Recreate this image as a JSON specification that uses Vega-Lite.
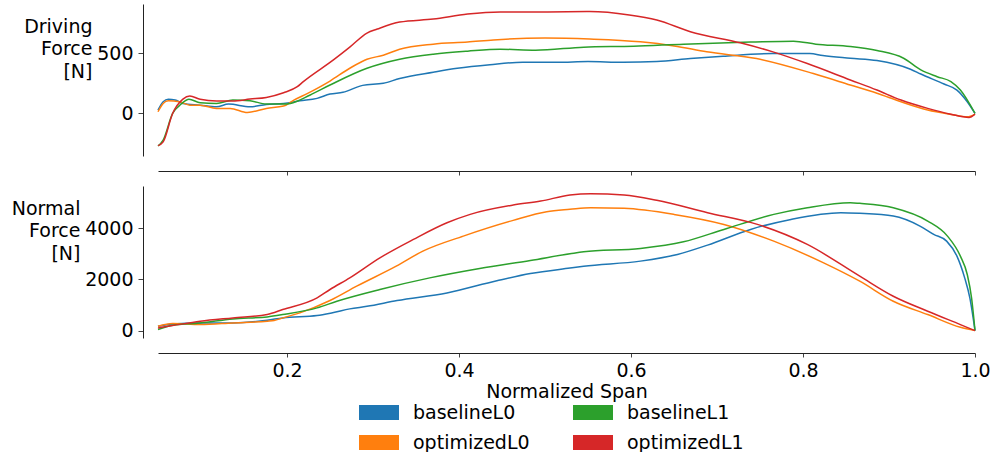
{
  "$schema": "https://vega.github.io/schema/vega-lite/v6.json",
  "padding": {"left": 11, "top": 4, "right": 4, "bottom": 0},
  "config": {
    "view": {"stroke": null},
    "font": "DejaVu Sans",
    "axis": {"grid": false, "domainColor": "#222", "tickColor": "#444", "labelColor": "#000", "titleColor": "#000", "labelFontSize": 19, "titleFontSize": 19, "titleFontWeight": "normal", "labelFont": "DejaVu Sans", "titleFont": "DejaVu Sans"},
    "axisX": {"tickSize": 4},
    "axisY": {"tickSize": 5}
  },
  "datasets": {
    "driving": [
      {"series": "baselineL0", "span": 0.050, "force": 27}, {"series": "baselineL0", "span": 0.056, "force": 97}, {"series": "baselineL0", "span": 0.062, "force": 117}, {"series": "baselineL0", "span": 0.070, "force": 111}, {"series": "baselineL0", "span": 0.079, "force": 83}, {"series": "baselineL0", "span": 0.099, "force": 69}, {"series": "baselineL0", "span": 0.118, "force": 55}, {"series": "baselineL0", "span": 0.132, "force": 78}, {"series": "baselineL0", "span": 0.157, "force": 55}, {"series": "baselineL0", "span": 0.176, "force": 75}, {"series": "baselineL0", "span": 0.196, "force": 83}, {"series": "baselineL0", "span": 0.215, "force": 105}, {"series": "baselineL0", "span": 0.235, "force": 125}, {"series": "baselineL0", "span": 0.250, "force": 161}, {"series": "baselineL0", "span": 0.265, "force": 175}, {"series": "baselineL0", "span": 0.288, "force": 233}, {"series": "baselineL0", "span": 0.312, "force": 250}, {"series": "baselineL0", "span": 0.331, "force": 290}, {"series": "baselineL0", "span": 0.370, "force": 342}, {"series": "baselineL0", "span": 0.398, "force": 375}, {"series": "baselineL0", "span": 0.436, "force": 405}, {"series": "baselineL0", "span": 0.474, "force": 425}, {"series": "baselineL0", "span": 0.514, "force": 425}, {"series": "baselineL0", "span": 0.550, "force": 430}, {"series": "baselineL0", "span": 0.591, "force": 425}, {"series": "baselineL0", "span": 0.630, "force": 430}, {"series": "baselineL0", "span": 0.669, "force": 455}, {"series": "baselineL0", "span": 0.707, "force": 475}, {"series": "baselineL0", "span": 0.765, "force": 497}, {"series": "baselineL0", "span": 0.808, "force": 497}, {"series": "baselineL0", "span": 0.823, "force": 480}, {"series": "baselineL0", "span": 0.855, "force": 458}, {"series": "baselineL0", "span": 0.886, "force": 439}, {"series": "baselineL0", "span": 0.925, "force": 367}, {"series": "baselineL0", "span": 0.937, "force": 327}, {"series": "baselineL0", "span": 0.964, "force": 244}, {"series": "baselineL0", "span": 0.979, "force": 194}, {"series": "baselineL0", "span": 0.991, "force": 97}, {"series": "baselineL0", "span": 1.0, "force": 0},
      {"series": "optimizedL0", "span": 0.050, "force": 14}, {"series": "optimizedL0", "span": 0.056, "force": 83}, {"series": "optimizedL0", "span": 0.062, "force": 105}, {"series": "optimizedL0", "span": 0.075, "force": 97}, {"series": "optimizedL0", "span": 0.087, "force": 69}, {"series": "optimizedL0", "span": 0.099, "force": 69}, {"series": "optimizedL0", "span": 0.118, "force": 42}, {"series": "optimizedL0", "span": 0.134, "force": 42}, {"series": "optimizedL0", "span": 0.154, "force": 8}, {"series": "optimizedL0", "span": 0.176, "force": 42}, {"series": "optimizedL0", "span": 0.196, "force": 61}, {"series": "optimizedL0", "span": 0.208, "force": 111}, {"series": "optimizedL0", "span": 0.224, "force": 167}, {"series": "optimizedL0", "span": 0.250, "force": 269}, {"series": "optimizedL0", "span": 0.273, "force": 375}, {"series": "optimizedL0", "span": 0.293, "force": 450}, {"series": "optimizedL0", "span": 0.312, "force": 483}, {"series": "optimizedL0", "span": 0.331, "force": 533}, {"series": "optimizedL0", "span": 0.370, "force": 575}, {"series": "optimizedL0", "span": 0.410, "force": 592}, {"series": "optimizedL0", "span": 0.440, "force": 610}, {"series": "optimizedL0", "span": 0.500, "force": 625}, {"series": "optimizedL0", "span": 0.552, "force": 617}, {"series": "optimizedL0", "span": 0.611, "force": 594}, {"series": "optimizedL0", "span": 0.650, "force": 560}, {"series": "optimizedL0", "span": 0.688, "force": 511}, {"series": "optimizedL0", "span": 0.746, "force": 455}, {"series": "optimizedL0", "span": 0.812, "force": 331}, {"series": "optimizedL0", "span": 0.855, "force": 236}, {"series": "optimizedL0", "span": 0.886, "force": 167}, {"series": "optimizedL0", "span": 0.914, "force": 97}, {"series": "optimizedL0", "span": 0.945, "force": 28}, {"series": "optimizedL0", "span": 0.972, "force": -8}, {"series": "optimizedL0", "span": 0.991, "force": -28}, {"series": "optimizedL0", "span": 1.0, "force": -5},
      {"series": "baselineL1", "span": 0.050, "force": -270}, {"series": "baselineL1", "span": 0.056, "force": -222}, {"series": "baselineL1", "span": 0.067, "force": 0}, {"series": "baselineL1", "span": 0.077, "force": 78}, {"series": "baselineL1", "span": 0.086, "force": 117}, {"series": "baselineL1", "span": 0.099, "force": 89}, {"series": "baselineL1", "span": 0.118, "force": 83}, {"series": "baselineL1", "span": 0.137, "force": 111}, {"series": "baselineL1", "span": 0.157, "force": 105}, {"series": "baselineL1", "span": 0.176, "force": 78}, {"series": "baselineL1", "span": 0.196, "force": 78}, {"series": "baselineL1", "span": 0.204, "force": 83}, {"series": "baselineL1", "span": 0.227, "force": 153}, {"series": "baselineL1", "span": 0.250, "force": 236}, {"series": "baselineL1", "span": 0.293, "force": 375}, {"series": "baselineL1", "span": 0.331, "force": 450}, {"series": "baselineL1", "span": 0.370, "force": 492}, {"series": "baselineL1", "span": 0.410, "force": 517}, {"series": "baselineL1", "span": 0.448, "force": 533}, {"series": "baselineL1", "span": 0.489, "force": 525}, {"series": "baselineL1", "span": 0.545, "force": 550}, {"series": "baselineL1", "span": 0.603, "force": 558}, {"series": "baselineL1", "span": 0.661, "force": 575}, {"series": "baselineL1", "span": 0.739, "force": 592}, {"series": "baselineL1", "span": 0.789, "force": 600}, {"series": "baselineL1", "span": 0.815, "force": 575}, {"series": "baselineL1", "span": 0.855, "force": 555}, {"series": "baselineL1", "span": 0.886, "force": 522}, {"series": "baselineL1", "span": 0.917, "force": 458}, {"series": "baselineL1", "span": 0.937, "force": 361}, {"series": "baselineL1", "span": 0.956, "force": 305}, {"series": "baselineL1", "span": 0.972, "force": 264}, {"series": "baselineL1", "span": 0.983, "force": 194}, {"series": "baselineL1", "span": 1.0, "force": 0},
      {"series": "optimizedL1", "span": 0.050, "force": -267}, {"series": "optimizedL1", "span": 0.056, "force": -236}, {"series": "optimizedL1", "span": 0.067, "force": 0}, {"series": "optimizedL1", "span": 0.079, "force": 119}, {"series": "optimizedL1", "span": 0.087, "force": 144}, {"series": "optimizedL1", "span": 0.099, "force": 117}, {"series": "optimizedL1", "span": 0.118, "force": 103}, {"series": "optimizedL1", "span": 0.137, "force": 103}, {"series": "optimizedL1", "span": 0.157, "force": 119}, {"series": "optimizedL1", "span": 0.176, "force": 133}, {"series": "optimizedL1", "span": 0.196, "force": 172}, {"series": "optimizedL1", "span": 0.212, "force": 222}, {"series": "optimizedL1", "span": 0.219, "force": 264}, {"series": "optimizedL1", "span": 0.254, "force": 444}, {"series": "optimizedL1", "span": 0.273, "force": 550}, {"series": "optimizedL1", "span": 0.293, "force": 667}, {"series": "optimizedL1", "span": 0.305, "force": 700}, {"series": "optimizedL1", "span": 0.331, "force": 758}, {"series": "optimizedL1", "span": 0.370, "force": 783}, {"series": "optimizedL1", "span": 0.410, "force": 825}, {"series": "optimizedL1", "span": 0.448, "force": 842}, {"series": "optimizedL1", "span": 0.500, "force": 842}, {"series": "optimizedL1", "span": 0.552, "force": 845}, {"series": "optimizedL1", "span": 0.598, "force": 817}, {"series": "optimizedL1", "span": 0.630, "force": 775}, {"series": "optimizedL1", "span": 0.669, "force": 678}, {"series": "optimizedL1", "span": 0.727, "force": 586}, {"series": "optimizedL1", "span": 0.765, "force": 511}, {"series": "optimizedL1", "span": 0.805, "force": 414}, {"series": "optimizedL1", "span": 0.855, "force": 278}, {"series": "optimizedL1", "span": 0.886, "force": 194}, {"series": "optimizedL1", "span": 0.914, "force": 111}, {"series": "optimizedL1", "span": 0.945, "force": 42}, {"series": "optimizedL1", "span": 0.972, "force": -6}, {"series": "optimizedL1", "span": 0.993, "force": -33}, {"series": "optimizedL1", "span": 1.0, "force": -5}
    ],
    "normal": [
      {"series": "baselineL0", "span": 0.050, "force": 170}, {"series": "baselineL0", "span": 0.067, "force": 261}, {"series": "baselineL0", "span": 0.099, "force": 300}, {"series": "baselineL0", "span": 0.137, "force": 300}, {"series": "baselineL0", "span": 0.177, "force": 405}, {"series": "baselineL0", "span": 0.195, "force": 497}, {"series": "baselineL0", "span": 0.235, "force": 588}, {"series": "baselineL0", "span": 0.253, "force": 700}, {"series": "baselineL0", "span": 0.273, "force": 850}, {"series": "baselineL0", "span": 0.293, "force": 950}, {"series": "baselineL0", "span": 0.328, "force": 1176}, {"series": "baselineL0", "span": 0.386, "force": 1475}, {"series": "baselineL0", "span": 0.444, "force": 1950}, {"series": "baselineL0", "span": 0.483, "force": 2230}, {"series": "baselineL0", "span": 0.529, "force": 2450}, {"series": "baselineL0", "span": 0.545, "force": 2522}, {"series": "baselineL0", "span": 0.611, "force": 2719}, {"series": "baselineL0", "span": 0.654, "force": 2980}, {"series": "baselineL0", "span": 0.689, "force": 3346}, {"series": "baselineL0", "span": 0.739, "force": 3960}, {"series": "baselineL0", "span": 0.786, "force": 4352}, {"series": "baselineL0", "span": 0.844, "force": 4614}, {"series": "baselineL0", "span": 0.866, "force": 4588}, {"series": "baselineL0", "span": 0.905, "force": 4482}, {"series": "baselineL0", "span": 0.936, "force": 4090}, {"series": "baselineL0", "span": 0.952, "force": 3765}, {"series": "baselineL0", "span": 0.967, "force": 3502}, {"series": "baselineL0", "span": 0.979, "force": 2914}, {"series": "baselineL0", "span": 0.988, "force": 2063}, {"series": "baselineL0", "span": 0.994, "force": 1278}, {"series": "baselineL0", "span": 1.0, "force": 0},
      {"series": "optimizedL0", "span": 0.050, "force": 170}, {"series": "optimizedL0", "span": 0.067, "force": 274}, {"series": "optimizedL0", "span": 0.099, "force": 235}, {"series": "optimizedL0", "span": 0.137, "force": 300}, {"series": "optimizedL0", "span": 0.177, "force": 366}, {"series": "optimizedL0", "span": 0.185, "force": 392}, {"series": "optimizedL0", "span": 0.195, "force": 497}, {"series": "optimizedL0", "span": 0.215, "force": 693}, {"series": "optimizedL0", "span": 0.250, "force": 1176}, {"series": "optimizedL0", "span": 0.281, "force": 1737}, {"series": "optimizedL0", "span": 0.327, "force": 2522}, {"series": "optimizedL0", "span": 0.358, "force": 3110}, {"series": "optimizedL0", "span": 0.405, "force": 3698}, {"series": "optimizedL0", "span": 0.463, "force": 4314}, {"series": "optimizedL0", "span": 0.502, "force": 4651}, {"series": "optimizedL0", "span": 0.529, "force": 4745}, {"series": "optimizedL0", "span": 0.553, "force": 4810}, {"series": "optimizedL0", "span": 0.592, "force": 4784}, {"series": "optimizedL0", "span": 0.650, "force": 4548}, {"series": "optimizedL0", "span": 0.708, "force": 4156}, {"series": "optimizedL0", "span": 0.766, "force": 3500}, {"series": "optimizedL0", "span": 0.824, "force": 2650}, {"series": "optimizedL0", "span": 0.866, "force": 1933}, {"series": "optimizedL0", "span": 0.905, "force": 1149}, {"series": "optimizedL0", "span": 0.945, "force": 627}, {"series": "optimizedL0", "span": 0.983, "force": 129}, {"series": "optimizedL0", "span": 1.0, "force": 0},
      {"series": "baselineL1", "span": 0.050, "force": 40}, {"series": "baselineL1", "span": 0.067, "force": 209}, {"series": "baselineL1", "span": 0.099, "force": 300}, {"series": "baselineL1", "span": 0.137, "force": 457}, {"series": "baselineL1", "span": 0.177, "force": 536}, {"series": "baselineL1", "span": 0.195, "force": 627}, {"series": "baselineL1", "span": 0.235, "force": 889}, {"series": "baselineL1", "span": 0.258, "force": 1149}, {"series": "baselineL1", "span": 0.308, "force": 1608}, {"series": "baselineL1", "span": 0.366, "force": 2063}, {"series": "baselineL1", "span": 0.424, "force": 2431}, {"series": "baselineL1", "span": 0.483, "force": 2745}, {"series": "baselineL1", "span": 0.529, "force": 3004}, {"series": "baselineL1", "span": 0.545, "force": 3085}, {"series": "baselineL1", "span": 0.611, "force": 3215}, {"series": "baselineL1", "span": 0.661, "force": 3477}, {"series": "baselineL1", "span": 0.708, "force": 3960}, {"series": "baselineL1", "span": 0.766, "force": 4548}, {"series": "baselineL1", "span": 0.805, "force": 4810}, {"series": "baselineL1", "span": 0.855, "force": 5006}, {"series": "baselineL1", "span": 0.866, "force": 4980}, {"series": "baselineL1", "span": 0.905, "force": 4808}, {"series": "baselineL1", "span": 0.945, "force": 4286}, {"series": "baselineL1", "span": 0.968, "force": 3698}, {"series": "baselineL1", "span": 0.983, "force": 2914}, {"series": "baselineL1", "span": 0.991, "force": 2196}, {"series": "baselineL1", "span": 0.996, "force": 1278}, {"series": "baselineL1", "span": 1.0, "force": 0},
      {"series": "optimizedL1", "span": 0.050, "force": 105}, {"series": "optimizedL1", "span": 0.067, "force": 196}, {"series": "optimizedL1", "span": 0.099, "force": 366}, {"series": "optimizedL1", "span": 0.137, "force": 497}, {"series": "optimizedL1", "span": 0.177, "force": 627}, {"series": "optimizedL1", "span": 0.195, "force": 823}, {"series": "optimizedL1", "span": 0.235, "force": 1281}, {"series": "optimizedL1", "span": 0.250, "force": 1608}, {"series": "optimizedL1", "span": 0.273, "force": 2063}, {"series": "optimizedL1", "span": 0.308, "force": 2847}, {"series": "optimizedL1", "span": 0.347, "force": 3569}, {"series": "optimizedL1", "span": 0.386, "force": 4220}, {"series": "optimizedL1", "span": 0.413, "force": 4549}, {"series": "optimizedL1", "span": 0.463, "force": 4914}, {"series": "optimizedL1", "span": 0.495, "force": 5071}, {"series": "optimizedL1", "span": 0.529, "force": 5306}, {"series": "optimizedL1", "span": 0.553, "force": 5359}, {"series": "optimizedL1", "span": 0.592, "force": 5306}, {"series": "optimizedL1", "span": 0.630, "force": 5097}, {"series": "optimizedL1", "span": 0.689, "force": 4614}, {"series": "optimizedL1", "span": 0.747, "force": 4156}, {"series": "optimizedL1", "span": 0.805, "force": 3372}, {"series": "optimizedL1", "span": 0.866, "force": 2129}, {"series": "optimizedL1", "span": 0.905, "force": 1345}, {"series": "optimizedL1", "span": 0.945, "force": 757}, {"series": "optimizedL1", "span": 0.983, "force": 235}, {"series": "optimizedL1", "span": 1.0, "force": 0}
    ]
  },
  "resolve": {"scale": {"color": "shared"}, "legend": {"color": "shared"}},
  "spacing": 10,
  "vconcat": [
    {
      "data": {"name": "driving"},
      "width": 817,
      "height": 152,
      "mark": {"type": "line", "strokeWidth": 1.5, "interpolate": "monotone"},
      "encoding": {
        "x": {"field": "span", "type": "quantitative", "scale": {"domain": [0.05, 1.0], "nice": false, "zero": false}, "axis": {"title": null, "labels": false, "values": [0.2, 0.4, 0.6, 0.8, 1.0], "offset": 15}},
        "y": {"field": "force", "type": "quantitative", "scale": {"domain": [-353, 908], "nice": false, "zero": false}, "axis": {"title": ["Driving", "Force", "[N]"], "values": [0, 500], "format": "d", "offset": 15, "titleAngle": 0, "titleAlign": "right", "titleBaseline": "middle", "titleX": -51, "titleY": 22, "titleLineHeight": 22.5, "labelPadding": 5}},
        "color": {"field": "series", "type": "nominal", "scale": {"domain": ["baselineL0", "optimizedL0", "baselineL1", "optimizedL1"], "range": ["#1f77b4", "#ff7f0e", "#2ca02c", "#d62728"]}, "legend": {"orient": "none", "legendX": 201, "legendY": 388.5, "columns": 2, "title": null, "symbolType": "M-1,-0.375L1,-0.375L1,0.375L-1,0.375Z", "symbolSize": 1600, "symbolStrokeWidth": 0, "labelFontSize": 19, "labelFont": "DejaVu Sans", "labelColor": "#000", "labelOffset": 14, "columnPadding": 43, "rowPadding": 0, "labelLimit": 0, "encode": {"symbols": {"update": {"fill": {"scale": "color", "field": "value"}, "fillOpacity": {"value": 1}, "stroke": {"value": "transparent"}}}}}}
      }
    },
    {
      "data": {"name": "normal"},
      "width": 817,
      "height": 152,
      "mark": {"type": "line", "strokeWidth": 1.5, "interpolate": "monotone"},
      "encoding": {
        "x": {"field": "span", "type": "quantitative", "scale": {"domain": [0.05, 1.0], "nice": false, "zero": false}, "axis": {"title": "Normalized Span", "values": [0.2, 0.4, 0.6, 0.8, 1.0], "format": ".1f", "offset": 15, "labelFlush": false, "labelPadding": 4, "titlePadding": 2}},
        "y": {"field": "force", "type": "quantitative", "scale": {"domain": [-290, 5659], "nice": false, "zero": false}, "axis": {"title": ["Normal", "Force", "[N]"], "values": [0, 2000, 4000], "format": "d", "offset": 15, "titleAngle": 0, "titleAlign": "right", "titleBaseline": "middle", "titleX": -63, "titleY": 22, "titleLineHeight": 22.5, "labelPadding": 5}},
        "color": {"field": "series", "type": "nominal", "scale": {"domain": ["baselineL0", "optimizedL0", "baselineL1", "optimizedL1"], "range": ["#1f77b4", "#ff7f0e", "#2ca02c", "#d62728"]}, "legend": {"orient": "none", "legendX": 201, "legendY": 388.5, "columns": 2, "title": null, "symbolType": "M-1,-0.375L1,-0.375L1,0.375L-1,0.375Z", "symbolSize": 1600, "symbolStrokeWidth": 0, "labelFontSize": 19, "labelFont": "DejaVu Sans", "labelColor": "#000", "labelOffset": 14, "columnPadding": 43, "rowPadding": 0, "labelLimit": 0, "encode": {"symbols": {"update": {"fill": {"scale": "color", "field": "value"}, "fillOpacity": {"value": 1}, "stroke": {"value": "transparent"}}}}}}
      }
    }
  ]
}
